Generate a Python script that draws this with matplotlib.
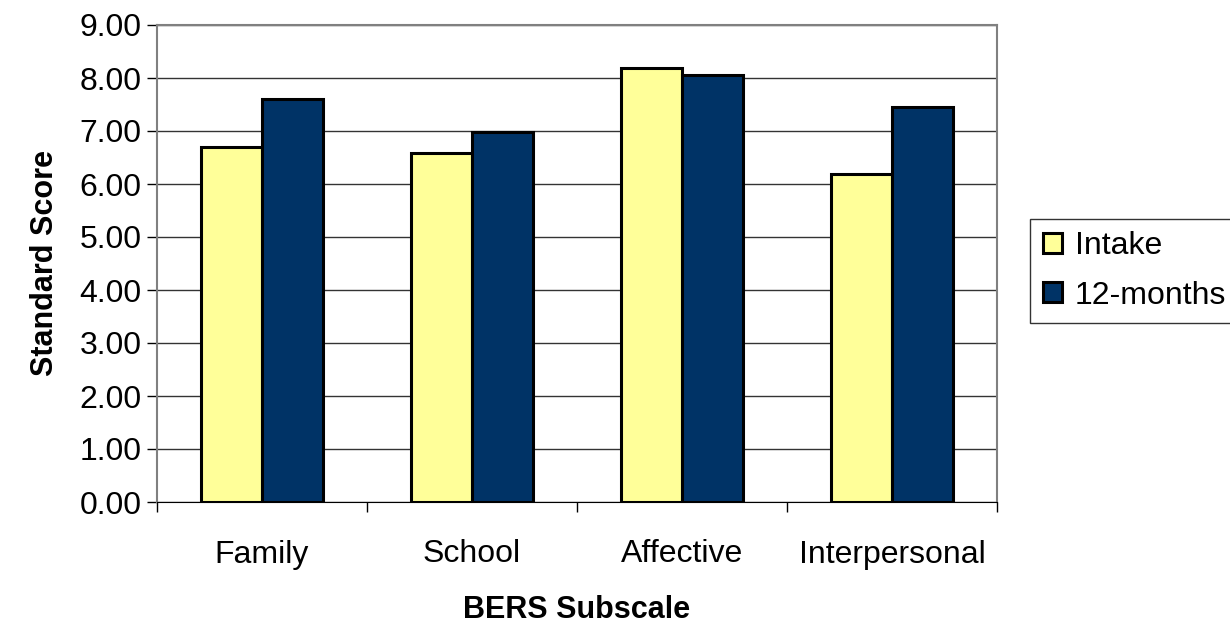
import numpy as np
import matplotlib
matplotlib.use("Agg")
import matplotlib.pyplot as plt

plt.rcParams['font.family'] = ['Liberation Sans', 'DejaVu Sans']

# data
categories = ['Family', 'School', 'Affective', 'Interpersonal']
intake = [6.70, 6.59, 8.18, 6.18]
months12 = [7.61, 6.99, 8.06, 7.45]
series_names = ['Intake', '12-months']

fig = plt.figure(figsize=(12.3, 6.28), dpi=100)
ax = fig.add_axes([157 / 1230, 1 - 502 / 628, 840 / 1230, 477 / 628])

x = np.arange(len(categories))
w = 0.29
ax.bar(x - w / 2, intake, w, color='#FFFF99', edgecolor='black', linewidth=2.2,
       label=series_names[0], zorder=3)
ax.bar(x + w / 2, months12, w, color='#003366', edgecolor='black', linewidth=2.2,
       label=series_names[1], zorder=3)

ax.set_xlim(-0.5, len(categories) - 0.5)
ax.set_ylim(0, 9)
ax.set_yticks(np.arange(0, 10, 1))
ax.set_yticklabels([f'{v:.2f}' for v in np.arange(0, 10, 1)], fontsize=23)
ax.yaxis.grid(True, color='#333333', linewidth=1.0, zorder=0)

# category labels centred, ticks on the boundaries
ax.set_xticks(np.arange(-0.5, len(categories), 1))
ax.set_xticklabels([])
ax.set_xticks(x, minor=True)
ax.set_xticklabels(categories, minor=True, fontsize=23)
ax.tick_params(axis='x', which='minor', length=0, pad=27)
ax.tick_params(axis='x', which='major', length=7, width=1, direction='out')
ax.tick_params(axis='y', length=7, width=1, direction='out', pad=4)

for s in ['top', 'right', 'left']:
    ax.spines[s].set_color('#808080')
    ax.spines[s].set_linewidth(1.5)
ax.spines['bottom'].set_color('black')

ax.set_ylabel('Standard Score', fontsize=22, fontweight='bold', labelpad=14)
ax.set_xlabel('BERS Subscale', fontsize=22, fontweight='bold', labelpad=18)

leg = ax.legend(loc='center left', bbox_to_anchor=(1030 / 1230, 1 - 271 / 628),
                bbox_transform=fig.transFigure, fontsize=23, frameon=True,
                fancybox=False, edgecolor='black', handlelength=0.6,
                handleheight=0.6, handletextpad=0.4, labelspacing=0.6,
                borderpad=0.4, borderaxespad=0)
leg.get_frame().set_linewidth(1.0)

fig.savefig('out.png', dpi=100, facecolor='white')
